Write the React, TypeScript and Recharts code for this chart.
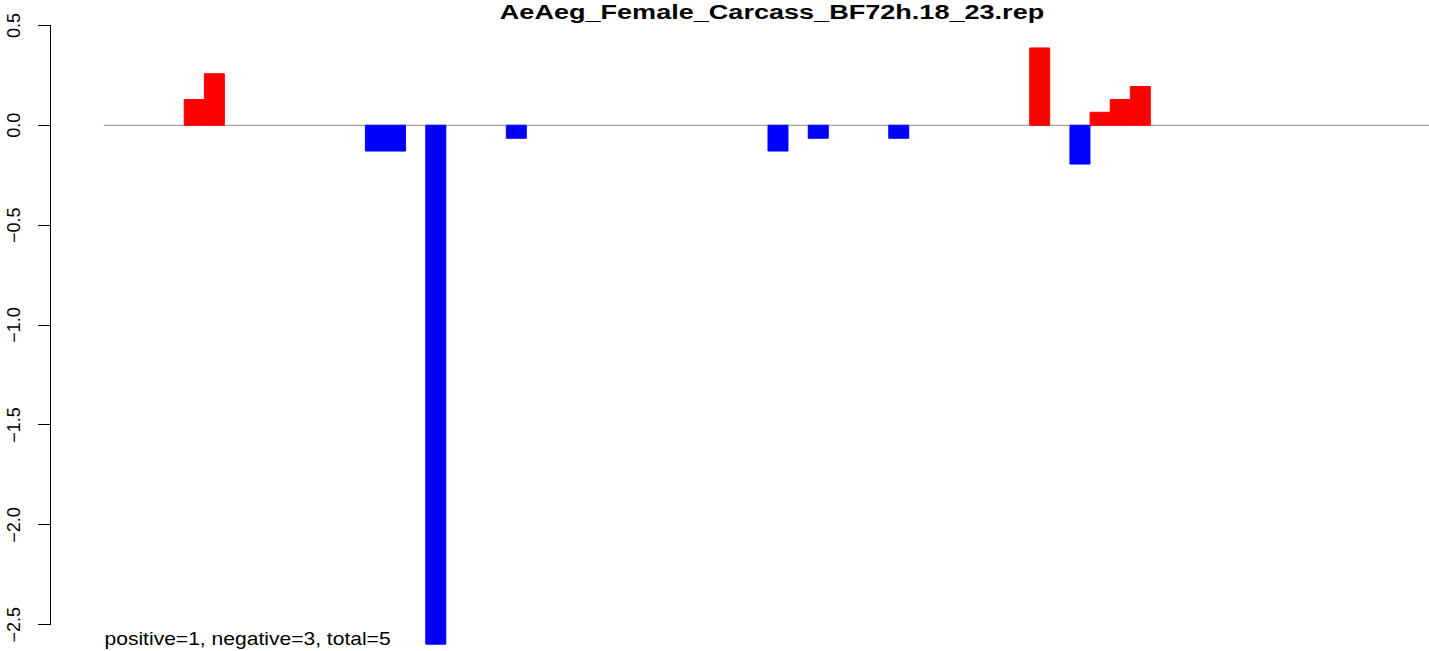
import React from "react";
import { BarChart, Bar, XAxis, YAxis, Cell, ReferenceArea } from "recharts";

// 66 positions along the x axis, one bar slot each
const positions = Array.from({ length: 66 }, (_, i) => String(i + 1));

// log ratio per position (null = no bar)
const logRatio: (number | null)[] = [
  null, null, null, null, 0.129, 0.258, null, null, null, null,
  null, null, null, -0.129, -0.129, null, -2.597, null, null, null,
  -0.065, null, null, null, null, null, null, null, null, null,
  null, null, null, -0.129, null, -0.065, null, null, null, -0.065,
  null, null, null, null, null, null, 0.387, null, -0.194, 0.065,
  0.129, 0.194, null, null, null, null, null, null, null, null,
  null, null, null, null, null, null,
];

const yTicks = [0.5, 0, -0.5, -1, -1.5, -2, -2.5];

const title = "AeAeg_Female_Carcass_BF72h.18_23.rep";
const footnote = "positive=1, negative=3, total=5";

const data = positions.map((pos, i) => ({ pos, value: logRatio[i] }));

// R-style axis range: data range plus 4% on each side
const vals = logRatio.filter((v): v is number => v !== null);
const lo = Math.min(0, ...vals);
const hi = Math.max(0, ...vals);
const ext = (hi - lo) * 0.04;
const yMin = lo - ext;
const yMax = hi + ext;

const FONT = "'Liberation Sans', Arial, Helvetica, sans-serif";
const AXIS_X = 50.7;
const TOP = 24.1;
const PLOT_H = 643.9;
const pxPerUnit = PLOT_H / (yMax - yMin);

const fmt = (v: number) => v.toFixed(1).replace("-", "\u2212");

const YTick = (props: any) => {
  const { y, payload, index } = props;
  const step = 0.5 * pxPerUnit;
  return (
    <g>
      <line x1={AXIS_X - 13} x2={AXIS_X} y1={y} y2={y} stroke="#000" shapeRendering="crispEdges" />
      {index < yTicks.length - 1 && (
        <line x1={AXIS_X} x2={AXIS_X} y1={y} y2={y + step} stroke="#000" shapeRendering="crispEdges" />
      )}
      <text
        x={20}
        y={y}
        transform={`rotate(-90 20 ${y})`}
        textAnchor="middle"
        fontSize={18}
        fontFamily={FONT}
        fill="#000"
      >
        {fmt(payload.value)}
      </text>
    </g>
  );
};

export default function App() {
  return (
    <div
      style={{
        position: "absolute",
        left: 0,
        top: 0,
        width: 1429,
        height: 651,
        overflow: "hidden",
        background: "#fff",
      }}
    >
      <BarChart
        width={1485.3}
        height={TOP + PLOT_H}
        data={data}
        margin={{ top: TOP, right: 0, bottom: 0, left: 0 }}
        barCategoryGap={0}
        barGap={0}
      >
        <XAxis dataKey="pos" hide padding={{ left: 53, right: 53 }} />
        <YAxis
          type="number"
          width={AXIS_X}
          domain={[yMin, yMax]}
          ticks={yTicks}
          interval={0}
          allowDataOverflow
          axisLine={false}
          tickLine={false}
          tick={<YTick />}
        />
        <ReferenceArea y1={-0.0025} y2={0.0025} fill="#8a8a8a" fillOpacity={1} stroke="none" />
        <Bar dataKey="value" isAnimationActive={false}>
          {data.map((d, i) => {
            const c = (d.value ?? 0) >= 0 ? "#ff0000" : "#0000ff";
            return <Cell key={i} fill={c} stroke={c} strokeWidth={1} />;
          })}
        </Bar>
      </BarChart>
      <svg
        width={1429}
        height={651}
        style={{ position: "absolute", left: 0, top: 0, pointerEvents: "none" }}
      >
        <text
          transform="translate(772,18.6) scale(1.32,1)"
          textAnchor="middle"
          fontSize={20.5}
          fontWeight="bold"
          fontFamily={FONT}
          fill="#000"
        >
          {title}
        </text>
        <text
          transform="translate(104.5,645) scale(1.17,1)"
          fontSize={18}
          fontFamily={FONT}
          fill="#000"
        >
          {footnote}
        </text>
      </svg>
    </div>
  );
}
